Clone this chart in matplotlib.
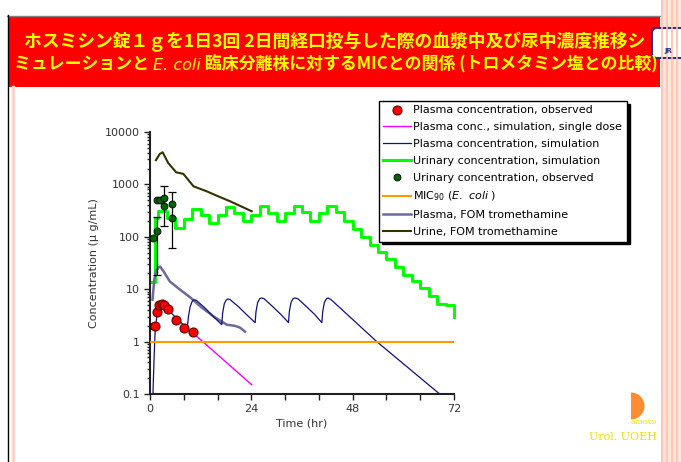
import numpy as np
import matplotlib.pyplot as plt
from matplotlib.patches import Rectangle, Wedge, FancyBboxPatch
from matplotlib.ticker import FixedLocator, NullFormatter, LogLocator

# ___ data ___
title_1 = 'ホスミシン錠１ｇを1日3回 2日間経口投与した際の血漿中及び尿中濃度推移シ'
title_2a = 'ミュレーションと '
title_2b = 'E. coli'
title_2c = ' 臨床分離株に対するMICとの関係 (トロメタミン塩との比較)'

# plasma, observed (red dots)
po_t = [1.2, 1.7, 2.2, 2.9, 3.4, 4.3, 6.2, 8.1, 10.2]
po_c = [1.95, 3.7, 4.9, 5.2, 5.1, 4.2, 2.6, 1.8, 1.55]

# plasma, single dose simulation (pink)
ps_t = [10.2, 24.1]
ps_c = [1.45, 0.15]

# plasma, simulation (navy)
pm_t = [0.7, 0.95, 1.2, 1.6, 2.0, 2.5, 3.0, 4.0, 6.0, 8.8, 9.1, 9.5, 10.0, 10.4, 11.0,
        13.0, 15.0, 17.0, 17.2, 17.6, 18.1, 18.5, 19.0, 21.0, 23.0, 24.9, 25.1, 25.5,
        26.0, 26.4, 27.0, 29.0, 31.0, 32.8, 33.0, 33.4, 33.9, 34.3, 35.0, 37.0, 39.0,
        40.7, 40.9, 41.3, 41.8, 42.2, 43.0, 53.7, 68.6]
pm_c = [0.1, 0.45, 1.5, 3.0, 4.2, 5.0, 5.2, 4.4, 2.9, 1.8, 3.0, 4.6, 5.9, 6.3, 6.1,
        4.4, 3.0, 2.1, 3.5, 5.3, 6.3, 6.5, 6.3, 4.6, 3.2, 2.3, 3.7, 5.6,
        6.6, 6.8, 6.6, 4.7, 3.3, 2.3, 3.7, 5.6, 6.6, 6.8, 6.6, 4.7, 3.3,
        2.3, 3.7, 5.6, 6.6, 6.8, 6.2, 1.0, 0.1]

# urinary, simulation (green steps, value holds until next time)
us_t = [0, 1.2, 2, 4, 6, 8, 10, 12, 14, 16, 18, 20, 22, 24, 26, 28, 30, 32, 34, 36,
        38, 40, 42, 44, 46, 48, 50, 52, 54, 56, 58, 60, 62, 64, 66, 68, 70, 72]
us_c = [14, 230, 307, 230, 145, 220, 345, 265, 184, 257, 372, 290, 200, 257, 380, 286,
        200, 286, 394, 294, 198, 286, 394, 294, 198, 142, 99, 71, 51, 37, 27, 19, 14.2,
        10.6, 7.5, 5.3, 4.9, 3.0]

# urinary, observed (dark green dots)
uo_t = [0.6, 0.6, 1.6, 1.7, 2.4, 3.2, 3.2, 5.2, 5.2]
uo_c = [2.0, 95, 127, 513, 500, 550, 395, 430, 230]
# error bars on some of them: time, value, low, high
eb_t = [1.6, 3.2, 5.2]
eb_c = [127, 550, 430]
eb_lo = [19, 160, 61]
eb_hi = [235, 950, 710]

mic90 = 1.0

# FOM tromethamine
pf_t = [0.6, 1.0, 1.4, 2.0, 2.4, 3.2, 4.7, 7.1, 9.5, 12.2, 15.0, 17.0, 18.2, 20.1, 21.3, 22.5]
pf_c = [6.3, 15, 22, 26, 27, 22, 14, 9.8, 7.0, 4.5, 3.05, 2.4, 2.1, 2.0, 1.85, 1.55]
uf_t = [1.4, 2.3, 3.0, 4.3, 6.2, 7.9, 10.3, 13.4, 16.2, 19.0, 24.1]
uf_c = [2900, 3800, 4100, 2570, 1700, 1590, 920, 740, 590, 475, 307]

x_ticks = [0, 24, 48, 72]
x_minor = [8, 16, 32, 40, 56, 64]
y_ticks = [0.1, 1, 10, 100, 1000, 10000]
y_labels = ['0.1', '1', '10', '100', '1000', '10000']

plt.rcParams['font.family'] = ['DejaVu Sans']
W, H = 681, 462
fig = plt.figure(figsize=(W / 100, H / 100), dpi=100)

# ___ background decoration in pixel coordinates ___
bg = fig.add_axes([0, 0, 1, 1])
bg.set_xlim(0, W)
bg.set_ylim(H, 0)
bg.axis('off')

bg.add_patch(Rectangle((8, 16), 652, 71, facecolor='#FF0000', edgecolor='none'))
bg.plot([7, 660], [15.5, 15.5], color='#808080', lw=1)
bg.plot([7.5, 7.5], [15, H], color='black', lw=1)
bg.plot([13, 13], [87, H], color='#FFD5C8', lw=2.5)
bg.add_patch(Rectangle((661, 0), 20, H, facecolor='#FFE6DC', edgecolor='none'))
for xs in [662, 667, 672, 677]:
    bg.plot([xs, xs], [0, H], color='#FFC0A8', lw=1.2)

# logo, top right (mostly off the page)
bg.add_patch(FancyBboxPatch((652, 28), 40, 30, boxstyle='round,pad=0,rounding_size=5',
                            facecolor='white', edgecolor='#303080', lw=1.5))
bg.text(664, 54, 'JR', color='#303080', fontsize=5, fontweight='bold', va='bottom')

# title
jp = ['Noto Sans CJK JP', 'DejaVu Sans']
bg.text(335, 42, title_1, family=jp, fontsize=12.8, fontweight='bold', color='#FFFF00',
        ha='center', va='center')
t1 = bg.text(14, 64, title_2a, family=jp, fontsize=12.2, fontweight='bold', color='#FFFF00',
             ha='left', va='center')
t2 = bg.annotate(title_2b, xy=(1, 0), xycoords=t1, va='bottom', family='DejaVu Sans',
                 fontsize=11.5, style='italic', color='#FFFF00')
bg.annotate(title_2c, xy=(1, 0), xycoords=t2, va='bottom', family=jp, fontsize=12.2,
            fontweight='bold', color='#FFFF00')

# bottom right mark
bg.add_patch(Wedge((631, 406), 13.5, -90, 90, facecolor='#FF8C30', edgecolor='none'))
bg.text(657, 422, 'amoto', family='DejaVu Serif', fontsize=6, color='#E6E600',
        ha='right', va='center')
bg.text(657, 437, 'Urol. UOEH', family='DejaVu Serif', fontsize=8, color='#E6E600',
        ha='right', va='center')

# ___ main chart ___
ax = fig.add_axes([150 / W, 68 / H, 304 / W, 262 / H])
ax.set_yscale('log')

h_po, = ax.plot(po_t, po_c, 'o', color='#FF0000', mec='#600000', mew=0.8, ms=6.5,
                zorder=6, label='Plasma concentration, observed')
h_ps, = ax.plot(ps_t, ps_c, color='#FF00FF', lw=1.0, zorder=3,
                label='Plasma conc., simulation, single dose')
h_pm, = ax.plot(pm_t, pm_c, color='#101080', lw=0.9, zorder=3,
                label='Plasma concentration, simulation')
h_us, = ax.step(us_t, us_c, where='post', color='#00FF00', lw=2.2, zorder=2,
                clip_on=False, label='Urinary concentration, simulation')
ax.errorbar(eb_t, eb_c, yerr=[np.array(eb_c) - np.array(eb_lo), np.array(eb_hi) - np.array(eb_c)],
            fmt='none', ecolor='black', elinewidth=0.9, capsize=3, capthick=0.9, zorder=4)
h_uo, = ax.plot(uo_t, uo_c, 'o', color='#006400', mec='black', mew=0.6, ms=5,
                zorder=5, label='Urinary concentration, observed')
h_mic = ax.axhline(mic90, color='#FF9900', lw=1.5, zorder=3,
                   label='MIC$_{90}$ ($\\it{E.\\ coli}$ )')
h_pf, = ax.plot(pf_t, pf_c, color='#6B6B9B', lw=1.8, zorder=2,
                label='Plasma, FOM tromethamine')
h_uf, = ax.plot(uf_t, uf_c, color='#333300', lw=1.5, zorder=2,
                label='Urine, FOM tromethamine')

ax.set_xlim(0, 72)
ax.set_ylim(0.1, 10000)
ax.xaxis.set_major_locator(FixedLocator(x_ticks))
ax.xaxis.set_minor_locator(FixedLocator(x_minor))
ax.set_yticks(y_ticks)
ax.set_yticklabels(y_labels)
ax.yaxis.set_minor_locator(LogLocator(base=10, subs=np.arange(2, 10)))
ax.yaxis.set_minor_formatter(NullFormatter())
ax.tick_params(which='both', direction='out', colors='#202020', labelcolor='#333333',
               labelsize=8, width=1)
ax.tick_params(which='major', length=4)
ax.tick_params(axis='x', which='minor', length=4)
ax.tick_params(axis='y', which='minor', length=2.5)
for side in ['top', 'right']:
    ax.spines[side].set_visible(False)
for side in ['left', 'bottom']:
    ax.spines[side].set_linewidth(1.5)
    ax.spines[side].set_color('#202020')
ax.set_xlabel('Time (hr)', fontsize=8, color='#333333', labelpad=3)
ax.set_ylabel('Concentration (μ g/mL)', fontsize=8, color='#333333', labelpad=4)

handles = [h_po, h_ps, h_pm, h_us, h_uo, h_mic, h_pf, h_uf]
leg = fig.legend(handles=handles, labels=[h.get_label() for h in handles],
                 loc='upper left', bbox_to_anchor=(379 / W, 1 - 101 / H),
                 borderaxespad=0, fontsize=8, frameon=True, fancybox=False,
                 framealpha=1, edgecolor='black', handlelength=2.5, handletextpad=0.2,
                 labelspacing=0.62, borderpad=0.4, numpoints=1,
                 shadow={'color': 'black', 'alpha': 1})
leg.get_frame().set_linewidth(1.0)

fig.savefig('out.png', dpi=100)
